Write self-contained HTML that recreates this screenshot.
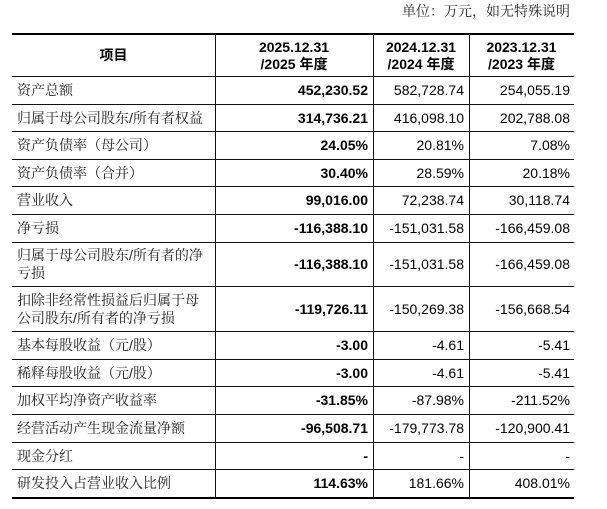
<!DOCTYPE html>
<html>
<head>
<meta charset="utf-8">
<style>
  html, body { margin:0; padding:0; background:#fff; }
  body { width:607px; height:509px; position:relative; overflow:hidden;
         font-family:"Liberation Sans","Noto Serif CJK SC",serif; color:#1a1a1a; }
  .unit { position:absolute; right:37px; top:2px; height:18px; line-height:18px;
          font-size:14px; color:#2a2a2a; font-family:"Liberation Sans","Noto Serif CJK SC",serif; white-space:nowrap; }
  .hl { position:absolute; left:12px; width:562px; height:1px; background:#111; }
  .thick { position:absolute; left:12px; width:562px; height:2.5px; background:#000; }
  .vl { position:absolute; top:33px; height:465px; width:1px; background:#111; }
  .row { position:absolute; left:12px; width:562px; display:flex; }
  .c { display:flex; align-items:center; box-sizing:border-box; height:100%; font-size:14px; white-space:nowrap; }
  .c0 { width:203px; padding-left:5px; font-family:"Liberation Sans","Noto Serif CJK SC",serif; color:#222; line-height:18px; }
  .c1 { width:158px; justify-content:flex-end; padding-right:5px; font-weight:bold; color:#000; }
  .c2 { width:96px; justify-content:flex-end; padding-right:5px; color:#000; }
  .c3 { width:105px; justify-content:flex-end; padding-right:4px; color:#000; }
  .hd .c { justify-content:center; padding:0; text-align:center; font-weight:bold; line-height:17px;
           font-family:"Liberation Sans","Noto Sans CJK SC",sans-serif; color:#000; }
</style>
</head>
<body>
<div class="unit">单位：万元，如无特殊说明</div>

<div class="thick" style="top:32.5px"></div>
<div class="hl" style="top:75.5px"></div>
<div class="hl" style="top:103.5px"></div>
<div class="hl" style="top:131px"></div>
<div class="hl" style="top:158.5px"></div>
<div class="hl" style="top:186px"></div>
<div class="hl" style="top:213.5px"></div>
<div class="hl" style="top:241.5px"></div>
<div class="hl" style="top:286px"></div>
<div class="hl" style="top:331px"></div>
<div class="hl" style="top:358.5px"></div>
<div class="hl" style="top:386px"></div>
<div class="hl" style="top:413.5px"></div>
<div class="hl" style="top:441.5px"></div>
<div class="hl" style="top:469px"></div>
<div class="thick" style="top:496.5px"></div>

<div class="vl" style="left:215px"></div>
<div class="vl" style="left:373px"></div>
<div class="vl" style="left:469px"></div>

<div class="row hd" style="top:35px;height:41px">
  <div class="c c0">项目</div>
  <div class="c c1">2025.12.31<br>/2025 年度</div>
  <div class="c c2">2024.12.31<br>/2024 年度</div>
  <div class="c c3">2023.12.31<br>/2023 年度</div>
</div>

<div class="row" style="top:76px;height:28px">
  <div class="c c0">资产总额</div><div class="c c1">452,230.52</div><div class="c c2">582,728.74</div><div class="c c3">254,055.19</div>
</div>
<div class="row" style="top:104px;height:27.5px">
  <div class="c c0">归属于母公司股东/所有者权益</div><div class="c c1">314,736.21</div><div class="c c2">416,098.10</div><div class="c c3">202,788.08</div>
</div>
<div class="row" style="top:131.5px;height:27.5px">
  <div class="c c0">资产负债率（母公司）</div><div class="c c1">24.05%</div><div class="c c2">20.81%</div><div class="c c3">7.08%</div>
</div>
<div class="row" style="top:159px;height:27.5px">
  <div class="c c0">资产负债率（合并）</div><div class="c c1">30.40%</div><div class="c c2">28.59%</div><div class="c c3">20.18%</div>
</div>
<div class="row" style="top:186.5px;height:27.5px">
  <div class="c c0">营业收入</div><div class="c c1">99,016.00</div><div class="c c2">72,238.74</div><div class="c c3">30,118.74</div>
</div>
<div class="row" style="top:214px;height:28px">
  <div class="c c0">净亏损</div><div class="c c1">-116,388.10</div><div class="c c2">-151,031.58</div><div class="c c3">-166,459.08</div>
</div>
<div class="row" style="top:242px;height:44.5px">
  <div class="c c0">归属于母公司股东/所有者的净<br>亏损</div><div class="c c1">-116,388.10</div><div class="c c2">-151,031.58</div><div class="c c3">-166,459.08</div>
</div>
<div class="row" style="top:286.5px;height:45px">
  <div class="c c0">扣除非经常性损益后归属于母<br>公司股东/所有者的净亏损</div><div class="c c1">-119,726.11</div><div class="c c2">-150,269.38</div><div class="c c3">-156,668.54</div>
</div>
<div class="row" style="top:331.5px;height:27.5px">
  <div class="c c0">基本每股收益（元/股）</div><div class="c c1">-3.00</div><div class="c c2">-4.61</div><div class="c c3">-5.41</div>
</div>
<div class="row" style="top:359px;height:27.5px">
  <div class="c c0">稀释每股收益（元/股）</div><div class="c c1">-3.00</div><div class="c c2">-4.61</div><div class="c c3">-5.41</div>
</div>
<div class="row" style="top:386.5px;height:27.5px">
  <div class="c c0">加权平均净资产收益率</div><div class="c c1">-31.85%</div><div class="c c2">-87.98%</div><div class="c c3">-211.52%</div>
</div>
<div class="row" style="top:414px;height:28px">
  <div class="c c0">经营活动产生现金流量净额</div><div class="c c1">-96,508.71</div><div class="c c2">-179,773.78</div><div class="c c3">-120,900.41</div>
</div>
<div class="row" style="top:442px;height:27.5px">
  <div class="c c0">现金分红</div><div class="c c1">-</div><div class="c c2">-</div><div class="c c3">-</div>
</div>
<div class="row" style="top:469.5px;height:27.5px">
  <div class="c c0">研发投入占营业收入比例</div><div class="c c1">114.63%</div><div class="c c2">181.66%</div><div class="c c3">408.01%</div>
</div>
</body>
</html>
